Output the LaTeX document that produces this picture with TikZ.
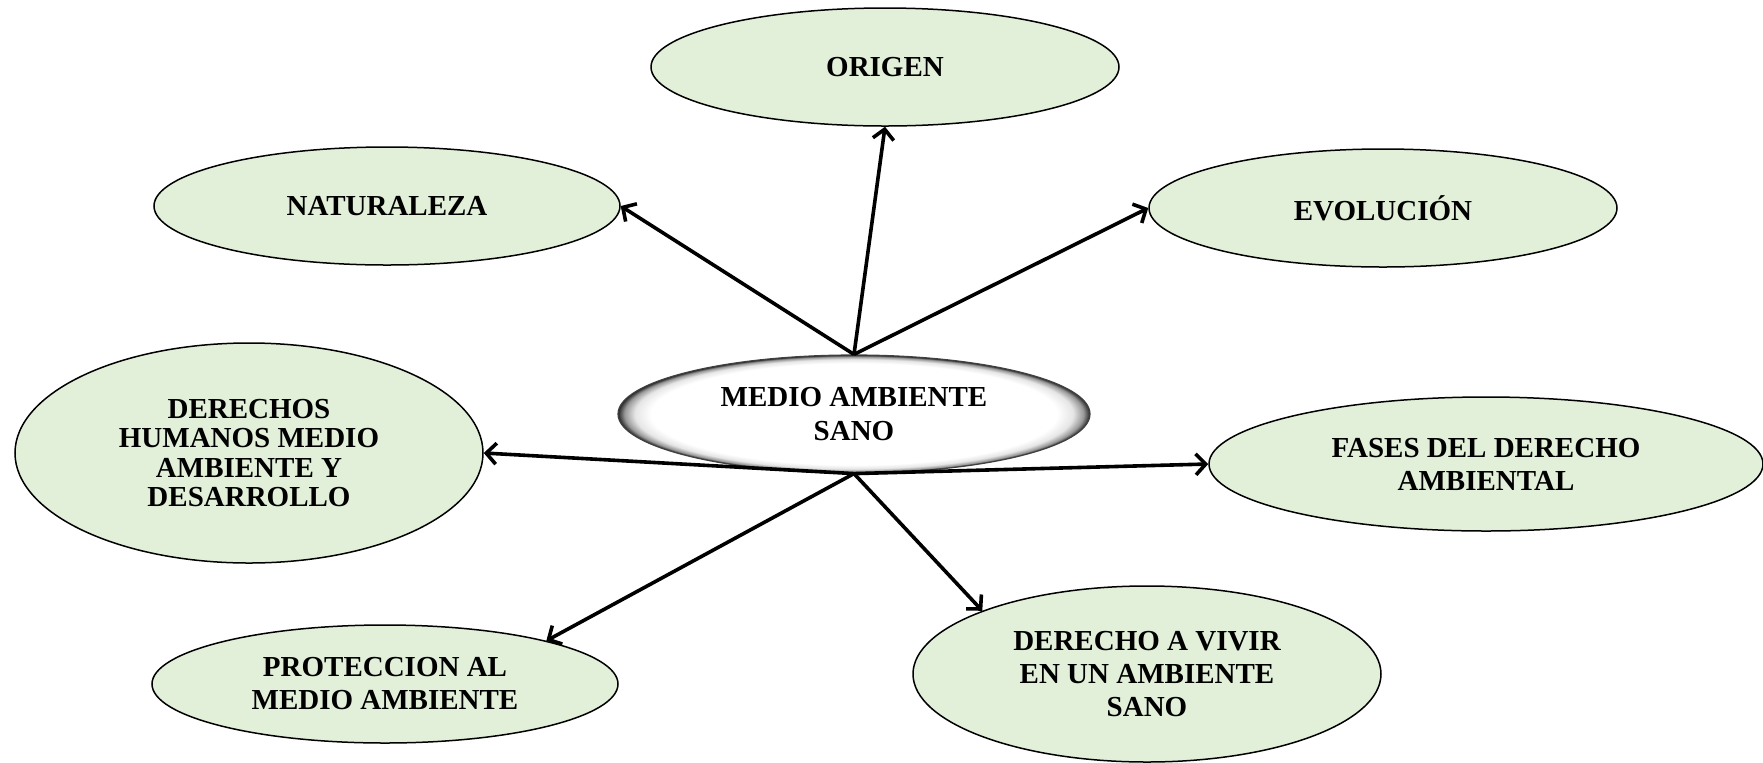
\documentclass[tikz,border=0pt]{standalone}
\usepackage{fontspec}
\setmainfont{Liberation Serif}
\usetikzlibrary{shapes.geometric,arrows.meta}
\definecolor{leaf}{RGB}{226,239,217}
\pgfdeclareradialshading{bevel}{\pgfpoint{0bp}{0bp}}{color(0bp)=(white); color(21.5bp)=(white); color(23.2bp)=(black!10); color(24.3bp)=(black!40); color(25bp)=(black!85); color(50bp)=(black!85)}
\begin{document}
\begin{tikzpicture}[x=0.5pt,y=-0.5pt,
  bubble/.style={ellipse, draw=black, line width=0.75pt, fill=leaf, inner sep=0pt,
    align=center, font=\fontsize{14.5}{16.5}\selectfont\bfseries},
  centre/.style={ellipse, shading=bevel, draw=black!75, line width=0.6pt, inner sep=0pt,
    align=center, font=\fontsize{14.5}{17}\selectfont\bfseries},
  arr/.style={line width=1.8pt, -{Straight Barb[length=5pt,width=10.5pt,line width=1.8pt]}}]
\useasboundingbox (0,0) rectangle (1763,762);
\node[centre, minimum width=236pt, minimum height=59pt] (c) at (854,414) {MEDIO AMBIENTE\\SANO};
\node[bubble, minimum width=234pt, minimum height=59pt] (ori) at (885,67) {ORIGEN};
\node[bubble, minimum width=233pt, minimum height=59pt] (nat) at (387,206) {NATURALEZA};
\node[bubble, minimum width=234pt, minimum height=59pt] (evo) at (1383,208) {EVOLUCIÓN};
\node[bubble, minimum width=234pt, minimum height=110pt, font=\fontsize{14.5}{14.6}\selectfont\bfseries] (der) at (249,453) {DERECHOS\\HUMANOS MEDIO\\AMBIENTE Y\\DESARROLLO};
\node[bubble, minimum width=277pt, minimum height=67pt] (fas) at (1486,464) {FASES DEL DERECHO\\AMBIENTAL};
\node[bubble, minimum width=233pt, minimum height=59pt] (pro) at (385,684) {PROTECCION AL\\MEDIO AMBIENTE};
\node[bubble, minimum width=234pt, minimum height=88pt] (viv) at (1147,674) {DERECHO A VIVIR\\EN UN AMBIENTE\\SANO};
\draw[arr] (c.north) -- (ori.south);
\draw[arr] (c.north) -- (nat.east);
\draw[arr] (c.north) -- (evo.west);
\draw[arr] (c.south) -- (der.east);
\draw[arr] (c.south) -- (fas.west);
\draw[arr] (c.south) -- (pro.15);
\draw[arr] (c.south) -- (viv.159);
\end{tikzpicture}
\end{document}
